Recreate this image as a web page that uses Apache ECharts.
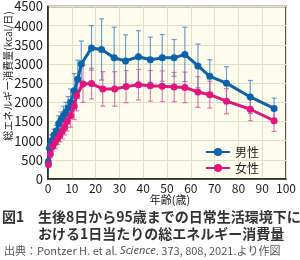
<!DOCTYPE html>
<html><head><meta charset="utf-8">
<script src="https://cdn.jsdelivr.net/npm/echarts@6/dist/echarts.min.js"></script>
<style>html,body{margin:0;padding:0;background:#fff}#c{width:300px;height:260px}</style>
</head><body><div id="c"></div>
<script>
var maleAges = [0.1,0.6,1.5,2.5,3.5,4.5,5.5,6.5,7.5,8.5,9.5,11,12.5,14,18.3,22.5,27.8,32.6,38,43,48,53,57.5,63,68,75,85,95];
var maleValues = [450,800,1000,1150,1250,1450,1550,1650,1750,1850,2000,2300,2600,3000,3420,3380,3160,3080,3190,3110,3160,3160,3250,2950,2680,2500,2140,1840];
var maleSD = [80,120,150,150,150,200,200,250,250,300,350,450,500,600,580,800,800,680,680,590,610,480,710,570,430,430,430,270];
var femaleAges = [0.2,1,2,3,4,5,6,7,8,9.5,11,12,14.7,18.3,23,28,32.8,38,43,48,53,57.5,63,68,75,85,95];
var femaleValues = [380,650,850,950,1050,1150,1250,1350,1500,1650,1900,2180,2480,2490,2350,2350,2410,2460,2430,2420,2400,2390,2270,2200,2030,1820,1520];
var femaleSD = [60,100,120,150,150,180,200,200,250,300,350,400,480,400,450,450,420,400,400,400,380,400,400,350,330,300,280];
var xTicks = [0,10,20,30,40,50,60,70,80,90,100];
var yTicks = [0,500,1000,1500,2000,2500,3000,3500,4000,4500];
var seriesNames = ['男性','女性'];
var yTitle = '総エネルギー消費量(kcal/日)';
var xTitle = '年齢(歳)';

var BLUE = '#0b62ad', PINK = '#e0157d';
function pts(a,v){return a.map(function(x,i){return [x,v[i]];});}
function errData(a,v,s){return a.map(function(x,i){return [x,v[i]-s[i],v[i]+s[i]];});}
function errSeries(data,color){
  return {type:'custom',silent:true,z:1,data:data,
    renderItem:function(params,api){
      var x=api.value(0),lo=api.coord([x,api.value(1)]),hi=api.coord([x,api.value(2)]);
      var hw=2.5, st={stroke:color,lineWidth:1.2};
      return {type:'group',children:[
        {type:'line',shape:{x1:lo[0],y1:lo[1],x2:hi[0],y2:hi[1]},style:st},
        {type:'line',shape:{x1:lo[0]-hw,y1:lo[1],x2:lo[0]+hw,y2:lo[1]},style:st},
        {type:'line',shape:{x1:hi[0]-hw,y1:hi[1],x2:hi[0]+hw,y2:hi[1]},style:st}]};
    }};
}
var chart = echarts.init(document.getElementById('c'),null,{renderer:'canvas'});
chart.setOption({
  animation:false,
  textStyle:{fontFamily:'"Noto Sans CJK JP", "Noto Sans", sans-serif'},
  grid:{left:48,right:14,top:4,bottom:81,show:true,backgroundColor:'#fdfced',borderColor:'#222',borderWidth:1.5},
  xAxis:{type:'value',min:xTicks[0],max:xTicks[xTicks.length-1],interval:10,
    axisLine:{lineStyle:{color:'#222',width:1.5}},axisTick:{show:false},
    splitLine:{show:true,lineStyle:{color:'#e2dfc6',width:1}},
    axisLabel:{color:'#222',fontSize:12,margin:3,lineHeight:13,formatter:function(v){return String(v);}}},
  yAxis:{type:'value',min:yTicks[0],max:yTicks[yTicks.length-1],interval:500,
    axisLine:{lineStyle:{color:'#222',width:1.5}},axisTick:{show:false},
    splitLine:{show:true,lineStyle:{color:'#e2dfc6',width:1}},
    axisLabel:{color:'#222',fontSize:13,margin:5,formatter:function(v){return String(v);}}},
  legend:{orient:'vertical',right:36,top:141,itemGap:4,itemWidth:24,itemHeight:10,
    textStyle:{color:'#222',fontSize:12},data:seriesNames},
  graphic:[
    {type:'text',x:8,y:76,rotation:Math.PI/2,
     style:{text:yTitle,fill:'#222',font:'10px "Noto Sans CJK JP"',textAlign:'center',textVerticalAlign:'middle'}},
    {type:'text',x:170,y:200,
     style:{text:xTitle,fill:'#222',font:'11px "Noto Sans CJK JP"',textAlign:'center',textVerticalAlign:'middle'}},
    {type:'text',x:2,y:210,style:{text:'図1',fill:'#333',font:'bold 14px "Noto Sans CJK JP"'}},
    {type:'text',x:38,y:210,style:{text:'生後8日から95歳までの日常生活環境下に',fill:'#333',font:'bold 14px "Noto Sans CJK JP"'}},
    {type:'text',x:38,y:227,style:{text:'おける1日当たりの総エネルギー消費量',fill:'#333',font:'bold 14px "Noto Sans CJK JP"'}},
    {type:'text',x:4,y:245,style:{rich:{n:{fill:'#555',font:'11px "Noto Sans CJK JP"'},i:{fill:'#555',font:'italic 11px "Noto Sans", sans-serif'}},
      text:'{n|出典：Pontzer H. et al. }{i|Science}{n|. 373, 808, 2021.より作図}'}}
  ],
  series:[
    errSeries(errData(maleAges,maleValues,maleSD),'rgba(60,130,200,0.75)'),
    errSeries(errData(femaleAges,femaleValues,femaleSD),'rgba(215,80,150,0.75)'),
    {name:seriesNames[0],type:'line',z:3,data:pts(maleAges,maleValues),symbol:'circle',symbolSize:7,
      lineStyle:{color:BLUE,width:3},itemStyle:{color:BLUE}},
    {name:seriesNames[1],type:'line',z:3,data:pts(femaleAges,femaleValues),symbol:'circle',symbolSize:7,
      lineStyle:{color:PINK,width:3},itemStyle:{color:PINK}}
  ]
});
</script></body></html>
